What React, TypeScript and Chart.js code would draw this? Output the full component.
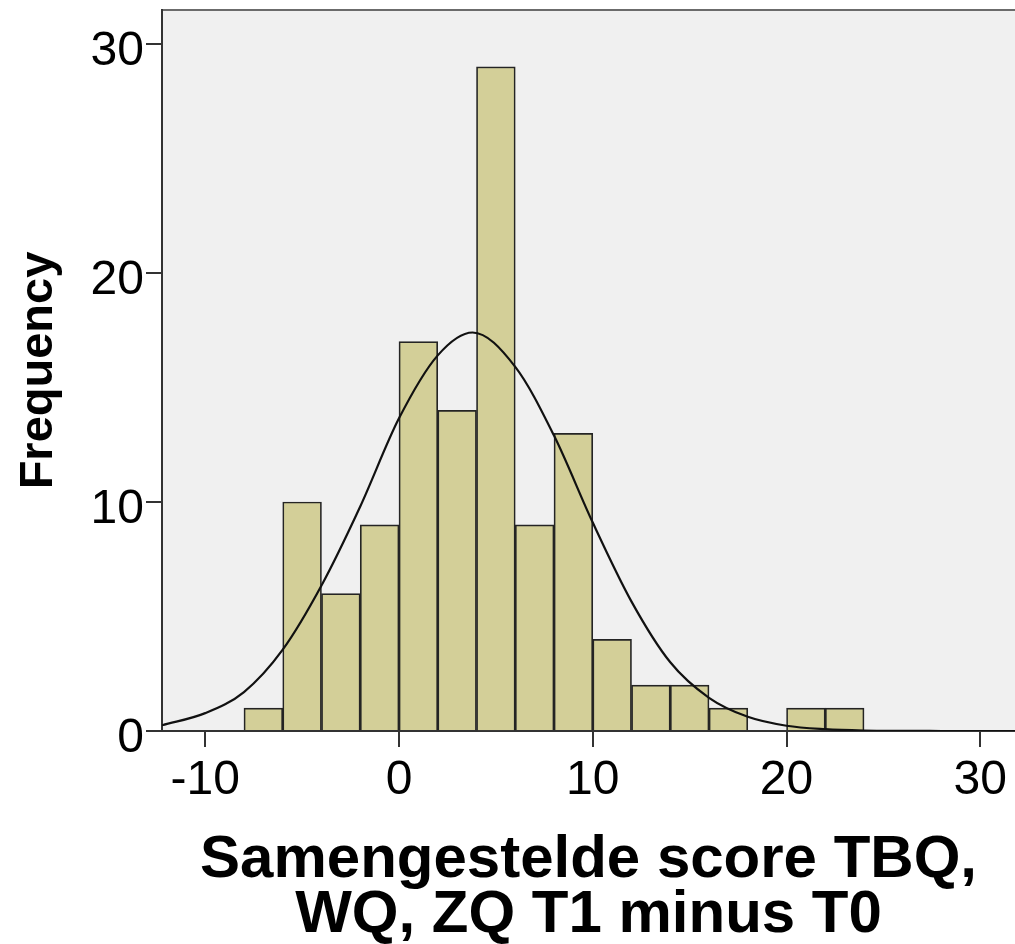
import { useEffect, useRef } from 'react';
import { Chart, registerables } from 'chart.js';

Chart.register(...registerables);

// Histogram bins (width 2) : centres and counts
const binCenters = [-7, -5, -3, -1, 1, 3, 5, 7, 9, 11, 13, 15, 17, 19, 21, 23];
const frequencies = [1, 10, 6, 9, 17, 14, 29, 9, 13, 4, 2, 2, 1, 0, 1, 1];

// Fitted normal curve
const curveX = [-12.23, -10, -8, -6, -4, -2, 0, 2, 3.8, 6, 8, 10, 12, 14, 16, 18, 20, 22, 24, 26, 28, 31.79];
const curveY = [0.25, 0.78, 1.7, 3.55, 6.35, 9.8, 13.65, 16.4, 17.4, 15.9, 12.9, 9.1, 5.65, 3.0, 1.45, 0.62, 0.23, 0.08, 0.02, 0.005, 0.001, 0];

const xTickValues = [-10, 0, 10, 20, 30];
const yTickValues = [0, 10, 20, 30];
const xRange = [-12.23, 31.79];
const yRange = [0, 31.48];

const xTitleLines = ['Samengestelde score TBQ,', 'WQ, ZQ T1 minus T0'];
const yTitle = 'Frequency';

const FONT = '"Liberation Sans", Arial, Helvetica, sans-serif';

const CANVAS_W = 1007;
const CANVAS_H = 936;

const plotBackground = {
  id: 'plotBackground',
  beforeDraw(chart: any) {
    const { ctx, chartArea } = chart;
    const { left, top, right, bottom } = chartArea;
    ctx.save();
    ctx.fillStyle = '#f0f0f0';
    ctx.fillRect(left, top, right - left, bottom - top);
    ctx.strokeStyle = '#6b6b6b';
    ctx.lineWidth = 2;
    ctx.beginPath();
    ctx.moveTo(left, top);
    ctx.lineTo(right, top);
    ctx.stroke();
    ctx.restore();
  },
};

export default function App() {
  const canvasRef = useRef<HTMLCanvasElement | null>(null);

  useEffect(() => {
    document.documentElement.style.overflow = 'hidden';
    document.body.style.margin = '0';
    const canvas = canvasRef.current;
    if (!canvas) return;
    const chart = new Chart(canvas, {
      type: 'bar',
      data: {
        datasets: [
          {
            type: 'line',
            data: curveX.map((x, i) => ({ x, y: curveY[i] })),
            borderColor: '#111111',
            borderWidth: 2.2,
            pointRadius: 0,
            pointHoverRadius: 0,
            pointBorderWidth: 0,
            cubicInterpolationMode: 'monotone',
            fill: false,
            order: 0,
          } as any,
          {
            type: 'bar',
            data: binCenters.map((x, i) => ({ x, y: frequencies[i] })),
            backgroundColor: '#d3cf98',
            borderColor: '#242424',
            borderWidth: 1.7,
            barPercentage: 1,
            categoryPercentage: 1,
            order: 1,
          } as any,
        ],
      },
      options: {
        animation: false,
        responsive: false,
        devicePixelRatio: 1,
        layout: { autoPadding: false, padding: { top: 2, left: 0, right: 0, bottom: 0 } },
        plugins: {
          legend: { display: false },
          tooltip: { enabled: false },
          title: { display: false },
        },
        scales: {
          x: {
            type: 'linear',
            min: xRange[0],
            max: xRange[1],
            offset: false,
            grid: {
              offset: false,
              drawOnChartArea: false,
              drawTicks: true,
              tickLength: 16,
              color: '#333333',
              lineWidth: 2,
            },
            border: { display: true, color: '#333333', width: 2 },
            ticks: {
              includeBounds: false,
              autoSkip: false,
              maxRotation: 0,
              font: { size: 48, family: FONT },
              color: '#000000',
              padding: 5,
            },
            afterBuildTicks: (s: any) => {
              s.ticks = xTickValues.map((v) => ({ value: v }));
            },
            afterFit: (s: any) => {
              s.height = 213;
              s.paddingLeft = 0;
              s.paddingRight = 0;
            },
            title: {
              display: true,
              text: xTitleLines,
              color: '#000000',
              font: { size: 60, weight: 'bold', family: FONT, lineHeight: 0.913 },
              padding: { top: 0, bottom: 1 },
            },
          },
          y: {
            type: 'linear',
            min: yRange[0],
            max: yRange[1],
            grid: {
              drawOnChartArea: false,
              drawTicks: true,
              tickLength: 16,
              color: '#333333',
              lineWidth: 2,
            },
            border: { display: true, color: '#333333', width: 2 },
            ticks: {
              includeBounds: false,
              autoSkip: false,
              font: { size: 48, family: FONT },
              color: '#000000',
              padding: 2,
              labelOffset: 8,
            },
            afterBuildTicks: (s: any) => {
              s.ticks = yTickValues.map((v) => ({ value: v }));
            },
            afterFit: (s: any) => {
              s.width = 154;
              s.paddingTop = 0;
              s.paddingBottom = 0;
            },
            title: {
              display: true,
              text: yTitle,
              color: '#000000',
              font: { size: 47, weight: 'bold', family: FONT },
              padding: { top: 3, bottom: 0 },
            },
          },
        },
      } as any,
      plugins: [plotBackground],
    });
    return () => chart.destroy();
  }, []);

  return (
    <div style={{ width: 1015, height: 944, paddingLeft: 8, paddingTop: 8, boxSizing: 'border-box' }}>
      <canvas
        ref={canvasRef}
        width={CANVAS_W}
        height={CANVAS_H}
        style={{ display: 'block', width: CANVAS_W, height: CANVAS_H }}
      />
    </div>
  );
}
